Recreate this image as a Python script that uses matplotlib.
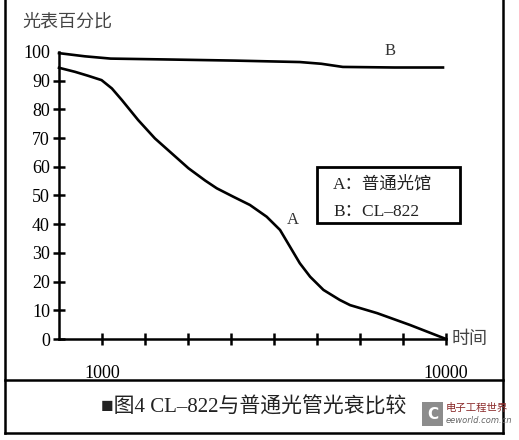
import matplotlib.pyplot as plt
from matplotlib.lines import Line2D
from matplotlib.patches import Rectangle

plt.rcParams['font.family'] = ['Liberation Serif', 'Noto Sans CJK SC', 'DejaVu Sans']

# x is the tick position along the time axis (tick 1 = 1000, tick 9 = 10000)
a_x = [0, 0.37, 0.68, 0.99, 1.23, 1.46, 1.84, 2.23, 2.62, 3.01, 3.40, 3.67, 4.05, 4.44,
       4.83, 5.14, 5.37, 5.60, 5.84, 6.15, 6.53, 6.77, 7.40, 8.16, 9]
a_y = [94.5, 93.1, 91.7, 90.2, 87.3, 83.3, 76.3, 69.9, 64.7, 59.5, 55.2, 52.5, 49.6, 46.7,
       42.6, 38, 32.2, 26.4, 21.7, 17.1, 13.6, 11.8, 9, 4.9, 0]
b_x = [0, 0.6, 1.2, 2.5, 4.1, 5.6, 6.1, 6.6, 7.8, 8.93]
b_y = [99.6, 98.5, 97.7, 97.4, 97.0, 96.5, 95.9, 94.8, 94.6, 94.6]

y_ticks = [0, 10, 20, 30, 40, 50, 60, 70, 80, 90, 100]
x_ticks = [0, 1, 2, 3, 4, 5, 6, 7, 8, 9]
x_labels = ['', '1000', '', '', '', '', '', '', '', '10000']

W, H = 519, 440
fig = plt.figure(figsize=(W / 100, H / 100), dpi=100)
ax = fig.add_axes([59 / W, (H - 339) / H, 387 / W, 287 / H])

ax.plot(a_x, a_y, color='black', lw=1.9, clip_on=False, solid_joinstyle='round')
ax.plot(b_x, b_y, color='black', lw=1.9, clip_on=False, solid_joinstyle='round')

ax.set_xlim(0, 9)
ax.set_ylim(0, 100)
for s in ['top', 'right']:
    ax.spines[s].set_visible(False)
for s in ['left', 'bottom']:
    ax.spines[s].set_linewidth(1.8)

ax.set_yticks(y_ticks)
ax.set_xticks(x_ticks)
ax.set_xticklabels(x_labels)
ax.tick_params(axis='both', direction='inout', length=9, width=1.8, labelsize=13)
ax.tick_params(axis='x', pad=14)
ax.tick_params(axis='y', pad=2)
ax.yaxis.get_major_ticks()[-1].tick1line.set_visible(False)
ax.xaxis.get_major_ticks()[0].tick1line.set_visible(False)

ax.text(5.44, 41.5, 'A', fontsize=12, ha='center', va='center', color='#333333')
ax.text(7.7, 100.3, 'B', fontsize=12, ha='center', va='center', color='#333333')

# labels outside the axes, in pixel positions
def px(x, y):
    return x / W, 1 - y / H

fig.text(*px(22, 22), '光表百分比', fontsize=13, ha='left', va='center', color='#444444')
fig.text(*px(452, 339), '时间', fontsize=13, ha='left', va='center', color='#444444')

# legend box
x0, y0 = px(317, 223)
x1, y1 = px(460, 167)
fig.patches.append(Rectangle((x0, y0), x1 - x0, y1 - y0, transform=fig.transFigure,
                             fill=False, edgecolor='black', lw=2))
fig.text(*px(333, 184), 'A：普通光馆', fontsize=12.5, ha='left', va='center', color='#222222')
fig.text(*px(333, 212), 'B：CL–822', fontsize=12.5, ha='left', va='center', color='#222222')

# outer frame
frame = [((5, 0), (5, 433)), ((503, 0), (503, 433)), ((5, 380), (503, 380)), ((5, 433), (503, 433))]
for (xa, ya), (xb, yb) in frame:
    p0, p1 = px(xa, ya), px(xb, yb)
    fig.add_artist(Line2D([p0[0], p1[0]], [p0[1], p1[1]], transform=fig.transFigure,
                          color='black', lw=1.8))

fig.text(*px(254, 408), '■图4 CL–822与普通光管光衰比较', fontsize=15, ha='center', va='center',
         color='#222222')

# watermark
wx0, wy0 = px(422, 426)
wx1, wy1 = px(443, 402)
fig.patches.append(Rectangle((wx0, wy0), wx1 - wx0, wy1 - wy0, transform=fig.transFigure,
                             facecolor='#8c8c8c', edgecolor='none'))
fig.text(*px(432.5, 414), 'C', fontsize=11, fontweight='bold', ha='center', va='center',
         color='white', family='DejaVu Sans')
fig.text(*px(446, 408), '电子工程世界', fontsize=7.5, ha='left', va='center', color='#8b2b2b')
fig.text(*px(446, 420), 'eeworld.com.cn', fontsize=6, ha='left', va='center', color='#666666',
         style='italic', family='DejaVu Sans')

fig.savefig('out.png', dpi=100)
